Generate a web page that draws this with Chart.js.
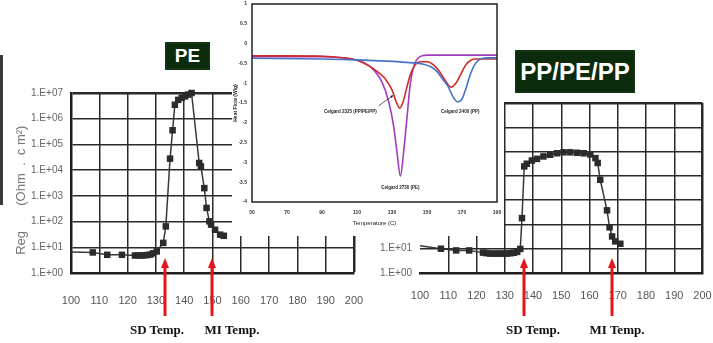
<!DOCTYPE html>
<html>
<head>
<meta charset="utf-8">
<script src="https://cdn.jsdelivr.net/npm/chart.js@4.4.1/dist/chart.umd.min.js"></script>
<style>
  html, body { margin: 0; padding: 0; background: #fff; }
  #wrap { position: relative; width: 713px; height: 343px; overflow: hidden; }
  canvas { position: absolute; }
  #peChart { left: 0; top: 0; }
  #triChart { left: 370px; top: 0; }
  #dscChart { left: 232px; top: 0; background: #fff; }
  .tag { position: absolute; background: #0c2a0c; color: #fff; font: bold 19px "Liberation Sans", Arial, sans-serif;
         display: flex; align-items: center; justify-content: center; box-shadow: inset 0 0 3px #274d27; }
  .note { position: absolute; font: bold 13px "Liberation Serif", "Times New Roman", serif; color: #111;
          white-space: nowrap; transform: translateX(-50%); }
  #edge { position: absolute; left: 0; top: 55px; width: 3px; height: 150px; background: #3a3a3a; }
</style>
</head>
<body>
<div id="wrap">
  <canvas id="peChart" width="380" height="343"></canvas>
  <canvas id="triChart" width="343" height="343"></canvas>
  <canvas id="dscChart" width="272" height="236"></canvas>
  <div id="edge"></div>
  <div class="tag" style="left:165px;top:42px;width:45px;height:28px;">PE</div>
  <div class="tag" style="left:515px;top:50px;width:120px;height:43px;font-size:24px;">PP/PE/PP</div>
  <div class="note" style="left:157px;top:322px;">SD Temp.</div>
  <div class="note" style="left:232px;top:322px;">MI Temp.</div>
  <div class="note" style="left:533px;top:322px;">SD Temp.</div>
  <div class="note" style="left:617px;top:322px;">MI Temp.</div>
</div>
<script>
// ── shared axis ticks ──
const tempTicks = [100, 110, 120, 130, 140, 150, 160, 170, 180, 190, 200];
const regDecades = [1, 10, 100, 1e3, 1e4, 1e5, 1e6, 1e7];
const regTickLabels = ['1.E+00', '1.E+01', '1.E+02', '1.E+03', '1.E+04', '1.E+05', '1.E+06', '1.E+07'];

// ── PE separator: temperature (C) vs resistance (Ohm.cm2) ──
const peTemp = [100, 107.7, 112.8, 118, 122.6, 123.8, 125, 126, 127, 128, 129, 130.3, 132.6, 133.5, 135, 135.9,
  136.7, 137.9, 139.1, 140.3, 141.4, 142.6, 145.3, 145.9, 147.1, 147.9, 148.9, 149.5, 150.9, 152.7, 154];
const peReg = [6.6, 6.3, 5.1, 5.1, 4.8, 4.8, 4.8, 4.9, 5.0, 5.2, 5.8, 6.9, 14.8, 65, 28000, 355000,
  3.5e6, 5.4e6, 6.5e6, 7.4e6, 8.7e6, 1.0e7, 19000, 14000, 2000, 340, 102, 76, 48, 31, 28];
const peSD = 133.2;
const peMI = 149.8;

// ── PP/PE/PP separator ──
const triTemp = [100, 107.4, 112.8, 117.4, 122.3, 123.5, 124.7, 126, 127.2, 128.4, 129.6, 130.8, 132, 133.2,
  134.4, 135.5, 136.1, 136.9, 137.8, 139.6, 141.4, 143.7, 146.1, 148.5, 150.8, 153.2, 155.6, 157.9, 160.3,
  162.1, 162.9, 163.8, 166.2, 167.1, 168, 169.1, 170.9];
const triReg = [13.2, 10, 8.5, 8.5, 6.9, 6.6, 6.3, 6.3, 6.3, 6.3, 6.3, 6.3, 6.5, 6.8,
  7.4, 9.8, 182, 24500, 31600, 42700, 50100, 63100, 74100, 85100, 93300, 93300, 89100, 85100, 75900,
  53700, 33900, 6900, 380, 76, 32, 20, 16];
const triSD = 136.9;
const triMI = 168.1;

// ── DSC inset: heat flow (W/g) vs temperature (C) ──
const dscTicksX = [50, 70, 90, 110, 130, 150, 170, 190];
const pe2730Temp = [50, 70, 90, 100, 110, 118, 124, 128, 131, 133, 134.8, 136.5, 138.5, 140.5, 143, 146, 150, 160, 175, 190];
const pe2730Flow = [-0.33, -0.33, -0.33, -0.35, -0.42, -0.6, -0.95, -1.45, -2.1, -2.8, -3.35, -2.8, -1.9, -1.0, -0.5, -0.33, -0.29, -0.29, -0.29, -0.29];
const tri2325Temp = [50, 70, 90, 100, 110, 117.6, 122, 126, 130, 132.5, 134.4, 136.5, 138.5, 140.5, 143, 146, 150, 154, 157, 160, 163.7, 166.5, 169, 172, 175, 178, 190];
const tri2325Flow = [-0.31, -0.31, -0.32, -0.35, -0.42, -0.58, -0.72, -0.88, -1.17, -1.48, -1.63, -1.45, -1.1, -0.78, -0.55, -0.46, -0.46, -0.55, -0.7, -0.9, -1.1, -1.0, -0.8, -0.55, -0.42, -0.39, -0.39];
const pp2400Temp = [50, 90, 110, 130, 140, 148, 152, 156, 159, 162, 165, 167.5, 170, 172.5, 175, 178, 181, 185, 190];
const pp2400Flow = [-0.37, -0.39, -0.41, -0.45, -0.48, -0.52, -0.58, -0.72, -0.9, -1.08, -1.35, -1.47, -1.4, -1.1, -0.75, -0.48, -0.38, -0.36, -0.36];
const dscNoteText = ['Celgard 2325 (PP/PE/PP)', 'Celgard 2400 (PP)', 'Celgard 2730 (PE)'];
const dscNoteTemp = [106.2, 169, 134.8];
const dscNoteFlow = [-1.71, -1.71, -3.65];

Chart.defaults.font.family = "'Liberation Sans', Arial, sans-serif";

const pts = (xs, ys) => xs.map((x, i) => ({ x, y: ys[i] }));
// keep the plot box exactly where the layout padding puts it
const noPadX = s => { s.paddingLeft = 0; s.paddingRight = 0; };
const noPadY = s => { s.paddingTop = 0; s.paddingBottom = 0; };

// red SD / MI arrows, tip inside the plot, tail over the tick labels
const arrowPlugin = {
  id: 'tempArrows',
  afterDraw(chart, args, opts) {
    const ctx = chart.ctx;
    const xs = chart.scales.x;
    ctx.save();
    ctx.fillStyle = '#e3161b';
    opts.temps.forEach(v => {
      const x = Math.round(xs.getPixelForValue(v));
      ctx.fillRect(x - 1.5, opts.tip + 8, 3, opts.end - opts.tip - 8);
      ctx.beginPath();
      ctx.moveTo(x, opts.tip);
      ctx.lineTo(x - 4, opts.tip + 10);
      ctx.lineTo(x + 4, opts.tip + 10);
      ctx.closePath();
      ctx.fill();
    });
    ctx.restore();
  }
};

function regChart(id, temps, regs, arrows, pad, yWidth, withTitle) {
  const edge = c => (c.tick && (c.tick.value === 200 || c.tick.value === 1e7)) ? 2.5 : 1.5;
  return new Chart(document.getElementById(id), {
    type: 'scatter',
    data: {
      datasets: [{
        data: pts(temps, regs),
        showLine: true,
        borderColor: '#383838',
        borderWidth: 1.5,
        pointStyle: 'rect',
        pointRadius: c => c.dataIndex === 0 ? 0 : 4.6,
        pointBackgroundColor: '#2b2b2b',
        pointBorderWidth: 0,
        clip: false,
      }],
    },
    options: {
      responsive: false,
      animation: false,
      layout: { padding: pad },
      plugins: {
        legend: { display: false },
        tooltip: { enabled: false },
        tempArrows: { temps: arrows, tip: 258, end: 316 },
      },
      scales: {
        x: {
          type: 'linear', min: 100, max: 200,
          afterBuildTicks: s => { s.ticks = tempTicks.map(v => ({ value: v })); },
          afterFit: s => { s.height = 70; noPadX(s); },
          ticks: { color: '#555', padding: withTitle ? 21 : 16, font: { size: 11 } },
          grid: {
            color: c => (!withTitle && c.tick && c.tick.value === 100) ? 'rgba(0,0,0,0)' : '#2a2a2a',
            lineWidth: edge, drawTicks: false,
          },
          border: { display: true, color: '#1e1e1e', width: 2.5 },
        },
        y: {
          type: 'logarithmic', min: 1, max: 1e7,
          afterBuildTicks: s => { s.ticks = regDecades.map(v => ({ value: v })); },
          afterFit: s => { s.width = yWidth; noPadY(s); },
          ticks: { color: '#666', padding: 8, font: { size: 10 },
                   callback: (v, i) => regTickLabels[i] },
          grid: { color: '#2a2a2a', lineWidth: edge, drawTicks: false },
          border: { display: withTitle, color: '#1e1e1e', width: 2.5 },
          title: {
            display: withTitle,
            text: 'Reg       (Ohm  .  c m²)    ',
            color: '#777',
            font: { size: 13 },
            padding: { top: 14, bottom: 0 },
          },
        },
      },
    },
    plugins: [arrowPlugin],
  });
}

regChart('peChart', peTemp, peReg, [peSD, peMI], { top: 93, right: 26, left: 0, bottom: 0 }, 71, true);
regChart('triChart', triTemp, triReg, [triSD, triMI], { top: 103, right: 10.5, left: 0, bottom: 0 }, 50, false);

// ── DSC inset ──
const framePlugin = {
  id: 'frame',
  afterDraw(chart) {
    const { ctx, chartArea: a } = chart;
    ctx.save();
    ctx.strokeStyle = '#222';
    ctx.lineWidth = 1.5;
    ctx.strokeRect(a.left, a.top, a.right - a.left, a.bottom - a.top);
    ctx.restore();
  }
};

const notePlugin = {
  id: 'dscNotes',
  afterDatasetsDraw(chart) {
    const { ctx, scales: { x, y } } = chart;
    ctx.save();
    ctx.font = "bold 4.5px 'Liberation Sans', Arial, sans-serif";
    ctx.fillStyle = '#222';
    ctx.textAlign = 'center';
    ctx.textBaseline = 'middle';
    dscNoteText.forEach((t, i) => {
      ctx.fillText(t, x.getPixelForValue(dscNoteTemp[i]), y.getPixelForValue(dscNoteFlow[i]));
    });
    // pointer from the 2325 label to its PE peak
    const x0 = x.getPixelForValue(122.4), y0 = y.getPixelForValue(-1.57);
    const x1 = x.getPixelForValue(130.6), y1 = y.getPixelForValue(-1.31);
    ctx.strokeStyle = '#222';
    ctx.lineWidth = 0.7;
    ctx.beginPath();
    ctx.moveTo(x0, y0);
    ctx.lineTo(x1, y1);
    ctx.stroke();
    const ang = Math.atan2(y1 - y0, x1 - x0);
    ctx.beginPath();
    ctx.moveTo(x1, y1);
    ctx.lineTo(x1 - 3 * Math.cos(ang - 0.5), y1 - 3 * Math.sin(ang - 0.5));
    ctx.lineTo(x1 - 3 * Math.cos(ang + 0.5), y1 - 3 * Math.sin(ang + 0.5));
    ctx.closePath();
    ctx.fillStyle = '#222';
    ctx.fill();
    ctx.restore();
  }
};

const dscLine = (temps, flows, color) => ({
  data: pts(temps, flows),
  showLine: true,
  borderColor: color,
  borderWidth: 1.6,
  pointRadius: 0,
  cubicInterpolationMode: 'monotone',
});

new Chart(document.getElementById('dscChart'), {
  type: 'scatter',
  data: {
    datasets: [
      dscLine(pp2400Temp, pp2400Flow, '#4472c4'),
      dscLine(tri2325Temp, tri2325Flow, '#d02a2a'),
      dscLine(pe2730Temp, pe2730Flow, '#a23cbf'),
    ],
  },
  options: {
    responsive: false,
    animation: false,
    layout: { padding: { top: 4, right: 7, left: 0, bottom: 0 } },
    plugins: { legend: { display: false }, tooltip: { enabled: false } },
    scales: {
      x: {
        type: 'linear', min: 50, max: 190,
        afterBuildTicks: s => { s.ticks = dscTicksX.map(v => ({ value: v })); },
        afterFit: s => { s.height = 34; noPadX(s); },
        ticks: { color: '#333', padding: 8, font: { size: 5, weight: 'bold' } },
        grid: { display: false, drawTicks: false },
        border: { display: false },
        title: { display: true, text: 'Temperature (C)', color: '#222', font: { size: 6 }, padding: { top: 0, bottom: 9 } },
      },
      y: {
        type: 'linear', min: -4, max: 1,
        ticks: { stepSize: 0.5, color: '#333', padding: 5, font: { size: 5, weight: 'bold' },
                 callback: v => String(Math.round(v * 10) / 10) },
        afterFit: s => { s.width = 20; noPadY(s); },
        grid: { display: false, drawTicks: false },
        border: { display: false },
        title: { display: true, text: 'Heat Flow (W/g)', color: '#222', font: { size: 5, weight: 'bold' }, padding: { top: 1, bottom: 0 } },
      },
    },
  },
  plugins: [framePlugin, notePlugin],
});
</script>
</body>
</html>
